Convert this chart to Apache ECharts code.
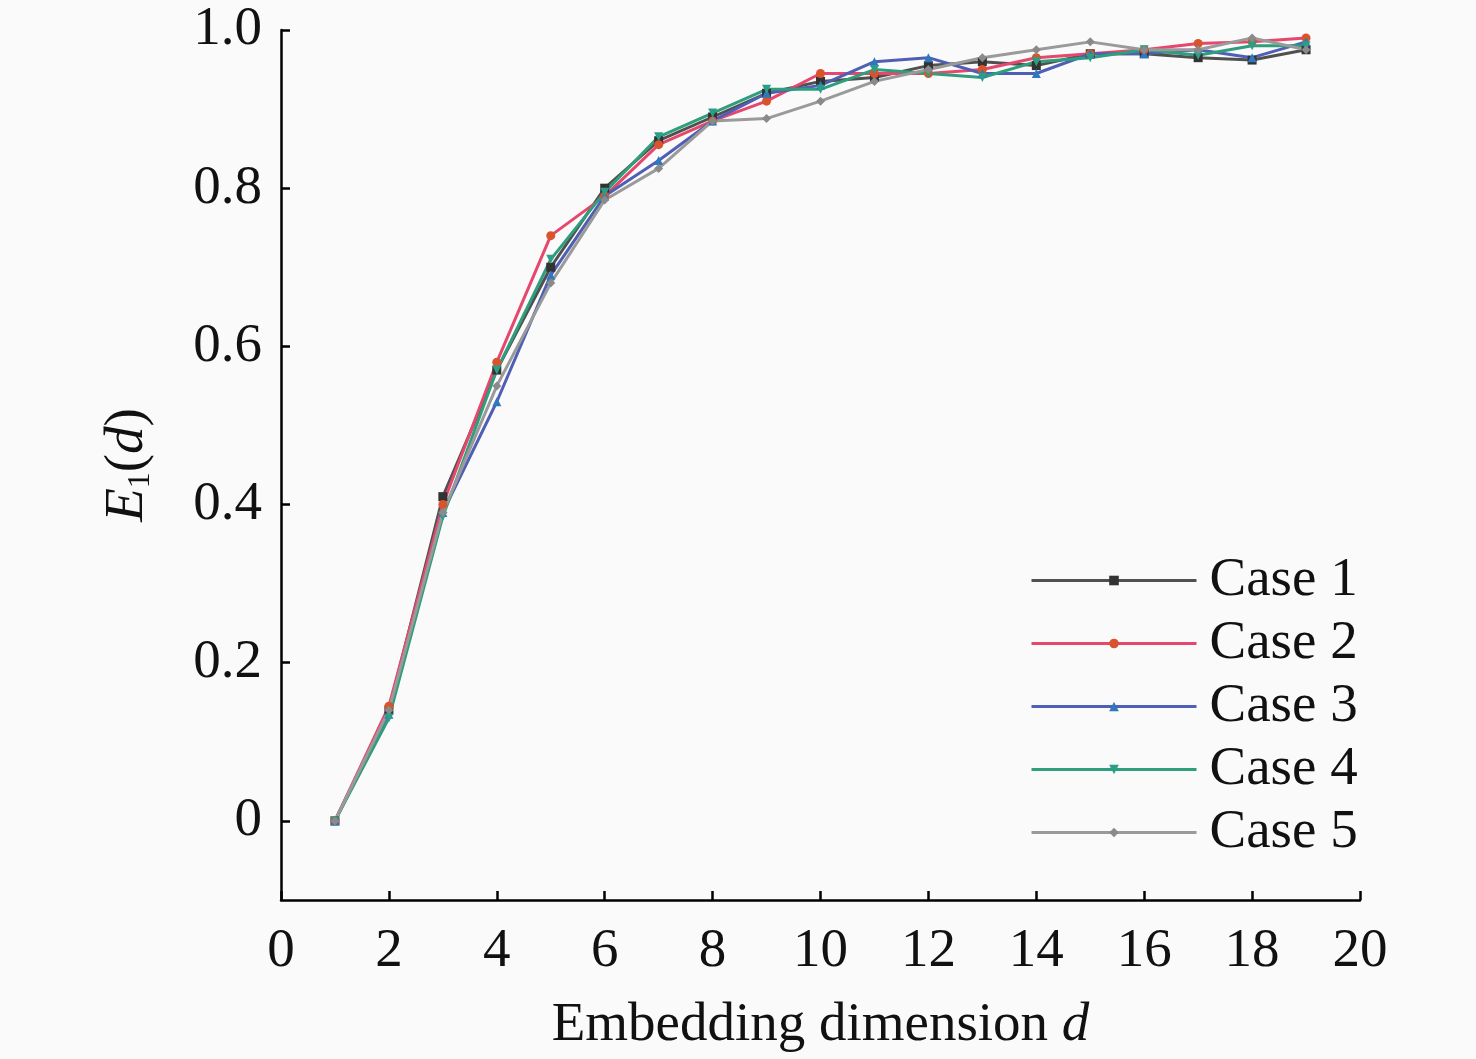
<!DOCTYPE html>
<html>
<head>
<meta charset="utf-8">
<script src="https://cdn.jsdelivr.net/npm/echarts@6/dist/echarts.min.js"></script>
<style>
  html, body { margin: 0; padding: 0; background: #fafafa; }
  #chart { width: 1476px; height: 1059px; }
</style>
</head>
<body>
<div id="chart"></div>
<script>
const dims = [1, 2, 3, 4, 5, 6, 7, 8, 9, 10, 11, 12, 13, 14, 15, 16, 17, 18, 19];

const case1 = [0, 0.14, 0.41, 0.57, 0.70, 0.80, 0.86, 0.89, 0.92, 0.935, 0.94, 0.955, 0.96, 0.955, 0.97, 0.97, 0.965, 0.962, 0.975];
const case2 = [0, 0.145, 0.40, 0.58, 0.74, 0.79, 0.855, 0.885, 0.91, 0.945, 0.945, 0.945, 0.95, 0.965, 0.97, 0.975, 0.983, 0.985, 0.99];
const case3 = [0, 0.135, 0.39, 0.53, 0.69, 0.79, 0.835, 0.885, 0.92, 0.93, 0.96, 0.965, 0.945, 0.945, 0.97, 0.97, 0.975, 0.965, 0.985];
const case4 = [0, 0.13, 0.385, 0.57, 0.71, 0.795, 0.865, 0.895, 0.925, 0.925, 0.95, 0.945, 0.94, 0.96, 0.965, 0.975, 0.968, 0.98, 0.98];
const case5 = [0, 0.14, 0.39, 0.55, 0.68, 0.785, 0.825, 0.885, 0.888, 0.91, 0.935, 0.95, 0.965, 0.975, 0.985, 0.975, 0.975, 0.99, 0.975];

const yTicks = [0, 0.2, 0.4, 0.6, 0.8, 1.0];

const font = '"Liberation Serif", "DejaVu Serif", serif';
const fs = 55;

function makeSeries(name, values, lineColor, markColor, symbol) {
  return {
    name: name,
    type: 'line',
    data: dims.map((d, i) => [d, values[i]]),
    symbol: symbol,
    symbolSize: 9,
    lineStyle: { color: lineColor, width: 3 },
    itemStyle: { color: markColor },
    z: 3
  };
}

const chart = echarts.init(document.getElementById('chart'));
chart.setOption({
  backgroundColor: '#fafafa',
  animation: false,
  grid: { left: 281, right: 116, top: 30, bottom: 159, outerBoundsMode: 'none' },
  legend: {
    orient: 'vertical',
    left: 1025,
    top: 548,
    itemWidth: 165,
    itemHeight: 12,
    itemGap: 8,
    lineStyle: { width: 3 },
    textStyle: { fontFamily: font, fontSize: fs, color: '#111', lineHeight: 55, padding: [0, 0, 0, 8] },
    data: ['Case 1', 'Case 2', 'Case 3', 'Case 4', 'Case 5']
  },
  xAxis: {
    type: 'value',
    min: 0,
    max: 20,
    interval: 2,
    name: 'Embedding dimension {i|d}',
    nameLocation: 'middle',
    nameGap: 98,
    nameTextStyle: {
      fontFamily: font, fontSize: fs, color: '#111',
      rich: { i: { fontFamily: font, fontSize: fs, fontStyle: 'italic', color: '#111' } }
    },
    axisLine: { onZero: false, lineStyle: { color: '#000', width: 2.5 } },
    axisTick: { inside: true, length: 9, lineStyle: { color: '#000', width: 2.5 } },
    axisLabel: { fontFamily: font, fontSize: fs, color: '#111', margin: 24 },
    splitLine: { show: false }
  },
  yAxis: {
    type: 'value',
    min: -0.1,
    max: 1.0,
    name: '{i|E}{s|1}({i|d})',
    nameLocation: 'middle',
    nameGap: 124,
    nameRotate: 90,
    nameTextStyle: {
      fontFamily: font, fontSize: fs, color: '#111',
      rich: {
        i: { fontFamily: font, fontSize: fs, fontStyle: 'italic', color: '#111' },
        s: { fontFamily: font, fontSize: 32, color: '#111', padding: [26, 0, 0, 0] }
      }
    },
    axisLine: { onZero: false, lineStyle: { color: '#000', width: 2.5 } },
    axisTick: { inside: true, length: 9, customValues: yTicks, lineStyle: { color: '#000', width: 2.5 } },
    axisLabel: {
      fontFamily: font, fontSize: fs, color: '#111', margin: 19,
      customValues: yTicks,
      formatter: v => (Math.abs(v) < 1e-9 ? '0' : v.toFixed(1))
    },
    splitLine: { show: false }
  },
  series: [
    makeSeries('Case 1', case1, '#505050', '#333333', 'rect'),
    makeSeries('Case 2', case2, '#e5486c', '#d9542c', 'circle'),
    makeSeries('Case 3', case3, '#4f5fb5', '#2f78c0', 'triangle'),
    makeSeries('Case 4', case4, '#2e9e7c', '#2a9e86', 'path://M0,0 L10,0 L5,10 Z'),
    makeSeries('Case 5', case5, '#9a9a9a', '#8a8a8a', 'diamond')
  ]
});
</script>
</body>
</html>
